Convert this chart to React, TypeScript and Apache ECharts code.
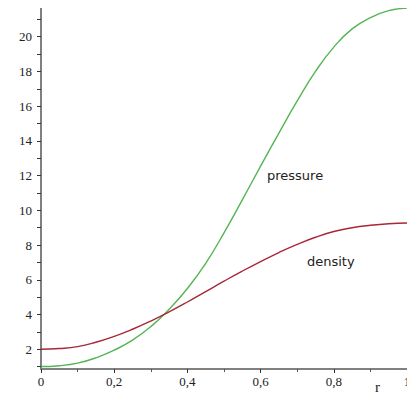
import React, { useEffect, useRef } from "react";
import * as echarts from "echarts";

const rValues = [0, 0.05, 0.1, 0.15, 0.2, 0.25, 0.3, 0.35, 0.4, 0.45, 0.5, 0.55, 0.6, 0.65, 0.7, 0.75, 0.8, 0.85, 0.9, 0.95, 1];
const density = [2.0, 2.04, 2.15, 2.4, 2.74, 3.15, 3.62, 4.15, 4.72, 5.32, 5.92, 6.5, 7.05, 7.57, 8.04, 8.45, 8.78, 9.0, 9.14, 9.23, 9.27];
const pressure = [1.0, 1.05, 1.2, 1.5, 1.95, 2.52, 3.3, 4.3, 5.5, 6.95, 8.7, 10.6, 12.55, 14.45, 16.3, 18.0, 19.4, 20.45, 21.1, 21.5, 21.65];
const yLabelValues = [2, 4, 6, 8, 10, 12, 14, 16, 18, 20];
const yTickValues = [1, 2, 3, 4, 5, 6, 7, 8, 9, 10, 11, 12, 13, 14, 15, 16, 17, 18, 19, 20, 21];
const seriesNames = ["pressure", "density"];

export default function App() {
  const ref = useRef<HTMLDivElement>(null);
  useEffect(() => {
    if (!ref.current) return;
    const chart = echarts.init(ref.current, undefined, { renderer: "svg" });
    const axisColor = "#808080";
    const labelStyle = { color: "#222", fontFamily: "Liberation Serif", fontSize: 13 };
    chart.setOption({
      animation: false,
      backgroundColor: "#fff",
      grid: { left: 41, right: 8, top: 6, bottom: 46, containLabel: false },
      xAxis: {
        type: "value",
        min: 0,
        max: 1,
        interval: 0.2,
        axisLine: { show: true, lineStyle: { color: axisColor, width: 2 }, onZero: false },
        axisTick: { show: true, length: 4, lineStyle: { color: "#333" } },
        minorTick: { show: true, splitNumber: 2, length: 3, lineStyle: { color: "#555" } },
        splitLine: { show: false },
        axisLabel: {
          ...labelStyle,
          margin: 6,
          formatter: (v: number) => String(Math.round(v * 10) / 10).replace(".", ","),
        },
      },
      yAxis: {
        type: "value",
        min: 0.86,
        max: 21.77,
        axisLine: { show: true, lineStyle: { color: axisColor, width: 2 }, onZero: false },
        axisTick: { show: true, length: 4, customValues: yTickValues, lineStyle: { color: "#333" } },
        splitLine: { show: false },
        axisLabel: { ...labelStyle, margin: 9, customValues: yLabelValues },
      },
      series: [
        {
          name: seriesNames[0],
          type: "line",
          smooth: true,
          showSymbol: false,
          data: rValues.map((r, i) => [r, pressure[i]]),
          lineStyle: { color: "#55b455", width: 1.4 },
        },
        {
          name: seriesNames[1],
          type: "line",
          smooth: true,
          showSymbol: false,
          data: rValues.map((r, i) => [r, density[i]]),
          lineStyle: { color: "#a82838", width: 1.4 },
        },
      ],
      graphic: [
        {
          type: "text",
          left: 267,
          top: 169,
          style: { text: "pressure", fill: "#222", font: "13px 'DejaVu Sans'" },
        },
        {
          type: "text",
          left: 307,
          top: 255,
          style: { text: "density", fill: "#222", font: "13px 'DejaVu Sans'" },
        },
        {
          type: "text",
          left: 375,
          top: 379,
          style: { text: "r", fill: "#222", font: "15px 'Liberation Serif'" },
        },
      ],
    });
    return () => chart.dispose();
  }, []);
  return <div ref={ref} style={{ width: 415, height: 415, margin: -8 }} />;
}
